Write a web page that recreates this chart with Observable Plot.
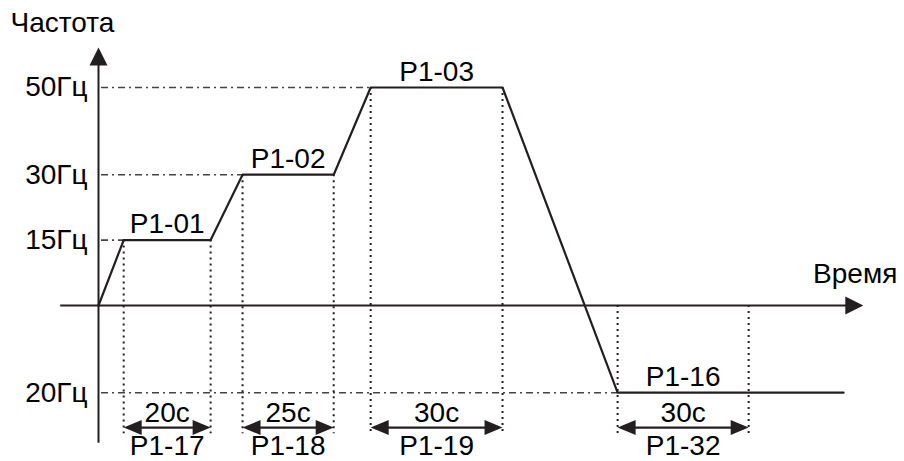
<!DOCTYPE html>
<html><head><meta charset="utf-8">
<script src="https://cdn.jsdelivr.net/npm/d3@7"></script>
<script src="https://cdn.jsdelivr.net/npm/@observablehq/plot@0.6"></script>
<style>body{margin:0;background:#fff}</style>
</head><body><div id="chart"></div>
<script>
// ---- data (schematic time units, frequency in Hz) ----
const levelValues = [15, 30, 50, -20];
const levelLabels = ["15Гц", "30Гц", "50Гц", "20Гц"];
const profileTime = [0, 6, 26.7, 34.3, 56, 64.8, 96.2, 123.6, 177.4];
const profileFreq = [0, 15, 15, 30, 30, 50, 50, -20, -20];
const segmentStart = [6, 34.3, 64.8, 123.6];
const segmentEnd = [26.7, 56, 96.2, 154.8];
const segmentLabels = ["P1-01", "P1-02", "P1-03", "P1-16"];
const durationLabels = ["20с", "25с", "30с", "30с"];
const durationParams = ["P1-17", "P1-18", "P1-19", "P1-32"];
const axisTitleY = "Частота";
const axisTitleX = "Время";

// ---- layout ----
const W = 904, H = 461;
const X_DOMAIN = [-98 / 4.2, 806 / 4.2];
const Y_DOMAIN = [-156 / 4.36, 305 / 4.36];
const yAxisBottom = -31.6, yAxisTip = 59.2;
const xAxisLeft = -9, xAxisTip = 182.1;
const guideBottom = -29.4;
const dimY = -28;
const INK = "#231f20";
const FONT = "Liberation Sans, Arial, sans-serif";
const FS = 28;

const arrowHead = (len, half) => ({
  draw(ctx) { ctx.moveTo(0, 0); ctx.lineTo(half, len); ctx.lineTo(-half, len); ctx.closePath(); }
});
const axisHead = arrowHead(18, 9);
const dimHead = arrowHead(18, 7.5);

const idx = d3.range(levelValues.length);
const profile = profileTime.map((t, i) => ({t, f: profileFreq[i]}));
const guides = idx.flatMap(i => [segmentStart[i], segmentEnd[i]].map(t => ({t, top: Math.max(levelValues[i], 0)})));
const dimHeads = idx.flatMap(i => [
  {t: segmentStart[i], rot: -90},
  {t: segmentEnd[i], rot: 90}
]);

const chart = Plot.plot({
  width: W, height: H,
  marginTop: 0, marginRight: 0, marginBottom: 0, marginLeft: 0,
  x: {domain: X_DOMAIN, axis: null},
  y: {domain: Y_DOMAIN, axis: null},
  style: {background: "#fff"},
  marks: [
    // dash-dot level guides
    Plot.link(idx, {
      x1: () => 0.6, x2: i => segmentStart[i],
      y1: i => levelValues[i], y2: i => levelValues[i],
      stroke: "#444", strokeWidth: 1.6, strokeDasharray: "7,4,2,4"
    }),
    // vertical dotted guides
    Plot.ruleX(guides, {x: "t", y1: "top", y2: () => guideBottom,
      stroke: INK, strokeWidth: 2, strokeDasharray: "2,4"}),
    // axes
    Plot.ruleX([0], {y1: () => yAxisBottom, y2: () => yAxisTip - 3, stroke: INK, strokeWidth: 2}),
    Plot.ruleY([0], {x1: () => xAxisLeft, x2: () => xAxisTip - 3, stroke: INK, strokeWidth: 2}),
    Plot.dot([0], {x: () => 0, y: () => yAxisTip, symbol: axisHead, r: 5, fill: INK, stroke: "none", rotate: 0}),
    Plot.dot([0], {x: () => xAxisTip, y: () => 0, symbol: axisHead, r: 5, fill: INK, stroke: "none", rotate: 90}),
    // frequency profile
    Plot.line(profile, {x: "t", y: "f", stroke: INK, strokeWidth: 2.2}),
    // dimension arrows
    Plot.link(idx, {x1: i => segmentStart[i] + 1, x2: i => segmentEnd[i] - 1,
      y1: () => dimY, y2: () => dimY, stroke: INK, strokeWidth: 2.2}),
    Plot.dot(dimHeads, {x: "t", y: () => dimY, rotate: "rot", symbol: dimHead, r: 5, fill: INK, stroke: "none"}),
    // texts
    Plot.text(idx, {x: () => 0, y: i => levelValues[i], text: i => levelLabels[i],
      textAnchor: "end", lineAnchor: "middle", dx: -11, fontSize: FS, fontFamily: FONT, fill: "#000"}),
    Plot.text(idx, {x: i => (segmentStart[i] + segmentEnd[i]) / 2, y: i => levelValues[i], text: i => segmentLabels[i],
      lineAnchor: "bottom", dy: -7, fontSize: FS, fontFamily: FONT, fill: "#000"}),
    Plot.text(idx, {x: i => (segmentStart[i] + segmentEnd[i]) / 2, y: () => dimY, text: i => durationLabels[i],
      lineAnchor: "bottom", dy: -6, fontSize: FS, fontFamily: FONT, fill: "#000"}),
    Plot.text(idx, {x: i => (segmentStart[i] + segmentEnd[i]) / 2, y: () => dimY, text: i => durationParams[i],
      lineAnchor: "top", dy: 8, fontSize: FS, fontFamily: FONT, fill: "#000"}),
    Plot.text([axisTitleY], {x: () => 0, y: () => yAxisTip, text: d => d, textAnchor: "start",
      lineAnchor: "bottom", dx: -88, dy: -15, fontSize: FS, fontFamily: FONT, fill: "#000"}),
    Plot.text([axisTitleX], {x: () => xAxisTip, y: () => 0, text: d => d, textAnchor: "end",
      lineAnchor: "bottom", dx: 34, dy: -23, fontSize: FS, fontFamily: FONT, fill: "#000"})
  ]
});
document.getElementById("chart").appendChild(chart);
</script>
</body></html>
